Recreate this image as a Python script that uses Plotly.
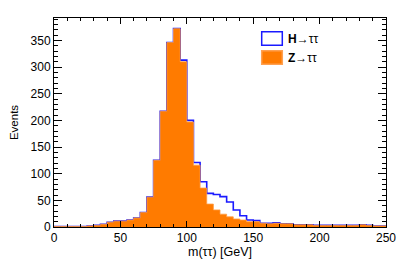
import plotly.graph_objects as go

bin_width = 5
bin_low = list(range(0, 250, bin_width))

z_tautau = [1, 1, 1, 1, 1, 2, 3, 5, 9, 11,
            11, 13, 17, 27, 56, 125, 217, 346, 372, 310,
            197, 116, 73, 43, 32, 24, 19, 15, 13, 10,
            10, 7, 6, 7, 6, 6, 4, 4, 4, 3,
            3, 3, 3, 3, 3, 3, 4, 3, 2, 2]

h_tautau = [1, 1, 1, 1, 1, 2, 3, 5, 9, 11,
            11, 13, 17, 27, 56, 125, 217, 346, 372, 313,
            200, 121, 85, 63, 61, 57, 47, 32, 21, 13,
            12, 7, 7, 8, 6, 6, 4, 4, 4, 3,
            3, 3, 3, 3, 3, 3, 4, 3, 2, 2]

legend_labels = ["<b>H</b>→ττ", "<b>Z</b>→ττ"]
x_title = "m(ττ) [GeV]"
y_title = "Events"

edges = bin_low + [bin_low[-1] + bin_width]

def step_y(vals):
    return list(vals) + [vals[-1]]

FONT = "Liberation Sans, Arial, Helvetica, sans-serif"
BLUE = "#1a1aff"
ORANGE = "#ff7b00"

fig = go.Figure()
fig.add_trace(go.Scatter(
    x=edges, y=step_y(h_tautau), mode="lines", line_shape="hv",
    line=dict(color=BLUE, width=1.6), fill="tozeroy", fillcolor="white",
    showlegend=False, hoverinfo="skip"))
fig.add_trace(go.Scatter(
    x=edges, y=step_y(z_tautau), mode="lines", line_shape="hv",
    line=dict(color="#ff9a40", width=0.8), fill="tozeroy", fillcolor=ORANGE,
    showlegend=False, hoverinfo="skip"))

axis_common = dict(
    showgrid=False, zeroline=False, showline=True, linecolor="black",
    linewidth=1, mirror="allticks", ticks="inside", tickcolor="black",
    tickfont=dict(family=FONT, size=12, color="black"), automargin=False,
)

fig.update_xaxes(range=[0, 250], tickvals=[0, 50, 100, 150, 200, 250],
                 ticklen=6, tickwidth=1,
                 minor=dict(dtick=10, ticks="inside", ticklen=3, tickcolor="black", tickwidth=1),
                 title=dict(text=x_title, font=dict(family=FONT, size=12.5, color="black"), standoff=2),
                 **axis_common)
fig.update_yaxes(range=[0, 392], tickvals=[0, 50, 100, 150, 200, 250, 300, 350],
                 ticklen=8, tickwidth=1,
                 minor=dict(dtick=10, ticks="inside", ticklen=4, tickcolor="black", tickwidth=1),
                 title=dict(text=y_title, font=dict(family=FONT, size=11.5, color="black"), standoff=11),
                 **axis_common)

# manual legend (ROOT style); positions in window pixels converted to paper coords
legend_items = [(legend_labels[0], "white", BLUE), (legend_labels[1], ORANGE, "#ffa050")]
y_tops = [31.7, 50.7]
plot_top, plot_h = 18, 209
plot_left, plot_w = 54, 332
for (lab, fillc, linec), yt in zip(legend_items, y_tops):
    x0 = (261.7 - plot_left) / plot_w
    x1 = (282.3 - plot_left) / plot_w
    y0 = 1 - (yt - plot_top) / plot_h
    y1 = 1 - (yt + 13.6 - plot_top) / plot_h
    fig.add_shape(type="rect", xref="paper", yref="paper", x0=x0, x1=x1, y0=y1, y1=y0,
                  fillcolor=fillc, line=dict(color=linec, width=1.5))
    fig.add_annotation(xref="paper", yref="paper", x=(285.5 - plot_left) / plot_w,
                       y=(y0 + y1) / 2, text=lab, showarrow=False, xanchor="left",
                       yanchor="middle", font=dict(family=FONT, size=12, color="black"))

# page body has an 8px margin, so the figure is sized/offset accordingly
fig.update_layout(
    width=407, height=253,
    margin=dict(l=46, r=29, t=10, b=34, autoexpand=False),
    paper_bgcolor="white", plot_bgcolor="white",
    font=dict(family=FONT, size=12, color="black"),
)

fig.write_html("out.html")
